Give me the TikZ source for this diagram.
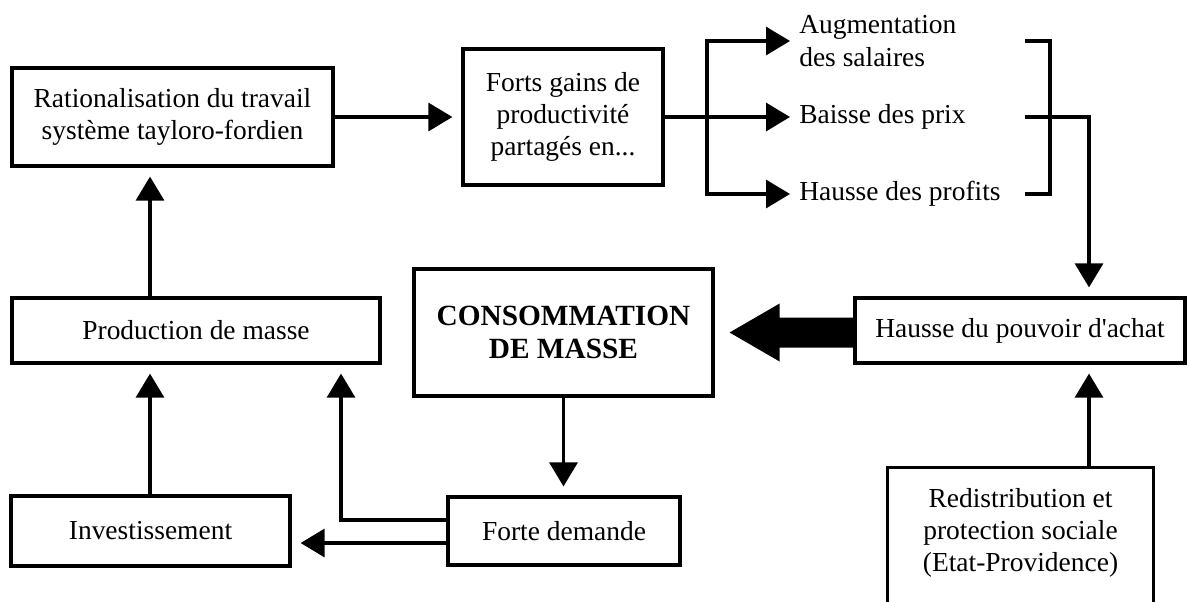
\documentclass[tikz,border=0pt]{standalone}
\usepackage{fontspec}
\setmainfont{Liberation Serif}[Ligatures=TeXOff]
\usetikzlibrary{arrows.meta,calc}
\begin{document}
\begin{tikzpicture}[x=0.75pt,y=-0.75pt,
  txt/.style={align=center, inner sep=2pt, font=\fontsize{20.6}{24}\selectfont},
  box/.style={txt, draw, line width=2.4pt},
  lbl/.style={align=left, inner xsep=0pt, inner ysep=2pt, anchor=west, font=\fontsize{20.6}{24.5}\selectfont},
  arr/.style={line width=2.4pt, -{Triangle[length=18pt,width=21pt]}, shorten >=6.75pt},
  ln/.style={line width=2.4pt}]
\useasboundingbox (0,0) rectangle (1189,601);
\clip (0,0) rectangle (1189,601);

% boxes
\node[box, minimum width=240.75pt, minimum height=73.5pt] (rat) at (172.5,117) {Rationalisation du travail\\système tayloro-fordien};
\node[box, minimum width=150pt, minimum height=102pt] (forts) at (563,117) {Forts gains de\\productivité\\partagés en...};
\node[box, minimum width=224.25pt, minimum height=95.25pt, font=\bfseries\fontsize{22}{25}\selectfont] (cons) at (563.5,332.5) {CONSOMMATION\\DE MASSE};
\node[box, minimum width=247.5pt, minimum height=48.75pt] (hausse) at (1020,330.5) {Hausse du pouvoir d'achat};
\node[box, minimum width=276pt, minimum height=48.75pt] (prod) at (196,330.5) {Production de masse};
\node[box, minimum width=209.25pt, minimum height=52.5pt] (invest) at (150.5,531) {Investissement};
\node[box, minimum width=174pt, minimum height=51pt] (forte) at (564,531) {Forte demande};
\node[txt, minimum width=198.75pt, minimum height=97.5pt] (redis) at (1020.5,533) {Redistribution et\\protection sociale\\(Etat-Providence)};
\draw[ln] ($(redis.south west)+(0,20)$) |- (redis.north east) -- ($(redis.south east)+(0,20)$);

% labels of the split
\node[lbl] (aug) at (799,41) {Augmentation\\des salaires};
\node[lbl] (baisse) at (799,117) {Baisse des prix};
\node[lbl] (profits) at (799,194) {Hausse des profits};

% helper coordinates
\coordinate (xa) at (150,0);
\coordinate (c1) at (341,520);
\coordinate (c2) at (341,543);
\coordinate (jx) at (707,0);
\coordinate (bx) at (1025,0);
\coordinate (by) at (1050,0);
\coordinate (dx) at (1089,0);

% connectors
\draw[arr] (rat.east) -- (forts.west);
\draw[arr] (prod.north -| xa) -- (rat.south -| xa);
\draw[arr] (invest.north -| xa) -- (prod.south -| xa);
\draw[arr] (forte.west |- c1) -| (prod.south -| c1);
\draw[arr] (forte.west |- c2) -- (invest.east |- c2);
\draw[arr] (cons.south) -- (cons.south |- forte.north);

\draw[arr] (forts.east) -- (baisse.west);
\draw[arr] (forts.east -| jx) |- (aug.west);
\draw[arr] (forts.east -| jx) |- (profits.west);

\draw[ln] (aug.west -| bx) -| (profits.west -| by) -- (profits.west -| bx);
\draw[arr] (baisse.west -| bx) -| (hausse.north -| dx);
\draw[arr] (redis.north -| dx) -- (hausse.south -| dx);

% big arrow
\coordinate (bt) at ($(cons.east)+(15,0)$);
\coordinate (bh1) at ($(bt)+(50,-29)$);
\coordinate (bh2) at ($(bt)+(50,29)$);
\coordinate (bs1) at ($(bt)+(50,-15)$);
\coordinate (bs2) at ($(bt)+(50,15)$);
\fill (bt) -- (bh1) -- (bs1) -- (bs1 -| hausse.west) -- (bs2 -| hausse.west) -- (bs2) -- (bh2) -- cycle;
\end{tikzpicture}
\end{document}
